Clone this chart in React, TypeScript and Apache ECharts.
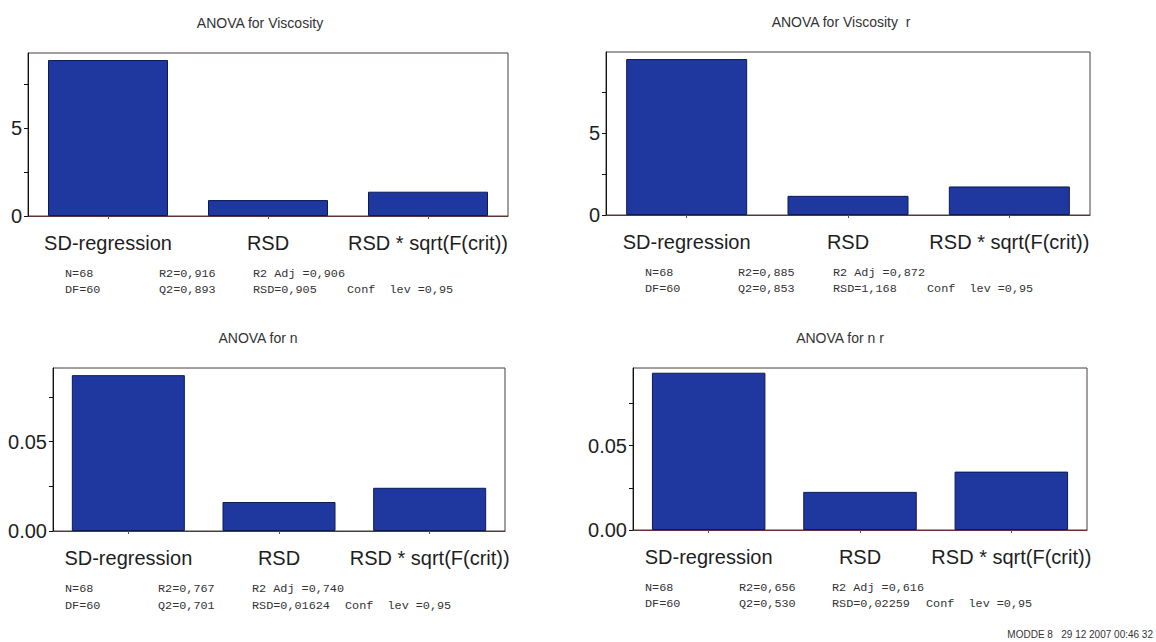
import React, { useEffect, useRef } from "react";
import * as echarts from "echarts";

const categories = ["SD-regression", "RSD", "RSD * sqrt(F(crit))"];

const titles = ["ANOVA for Viscosity", "ANOVA for Viscosity  r", "ANOVA for n", "ANOVA for n r"];

const viscosity = [8.86, 0.905, 1.38];
const viscosityR = [9.51, 1.168, 1.74];
const nValues = [0.0873, 0.01624, 0.0242];
const nRValues = [0.0932, 0.02259, 0.0346];

const yMax = [9.26, 9.94, 0.0913, 0.096];
const yTicks = [
  [0, 2.5, 5, 7.5],
  [0, 2.5, 5, 7.5],
  [0, 0.025, 0.05, 0.075],
  [0, 0.025, 0.05, 0.075],
];
const yLabels = [[0, 5], [0, 5], [0, 0.05], [0, 0.05]];
const yDecimals = [0, 0, 2, 2];

const statsRow1 = [
  ["N=68", "R2=0,916", "R2 Adj =0,906", ""],
  ["N=68", "R2=0,885", "R2 Adj =0,872", ""],
  ["N=68", "R2=0,767", "R2 Adj =0,740", ""],
  ["N=68", "R2=0,656", "R2 Adj =0,616", ""],
];
const statsRow2 = [
  ["DF=60", "Q2=0,893", "RSD=0,905", "Conf  lev =0,95"],
  ["DF=60", "Q2=0,853", "RSD=1,168", "Conf  lev =0,95"],
  ["DF=60", "Q2=0,701", "RSD=0,01624", "Conf  lev =0,95"],
  ["DF=60", "Q2=0,530", "RSD=0,02259", "Conf  lev =0,95"],
];
const footer = "MODDE 8   29 12 2007 00:46 32";

const seriesData = [viscosity, viscosityR, nValues, nRValues];

// layout
const grids = [
  { left: 28, top: 53, width: 480, height: 163 },
  { left: 606, top: 52, width: 484, height: 163 },
  { left: 53, top: 368, width: 452, height: 163 },
  { left: 633, top: 368, width: 454, height: 162 },
];
const titlePos = [
  { x: 260, y: 23 },
  { x: 841, y: 22 },
  { x: 258, y: 338 },
  { x: 840, y: 338 },
];
const statCols = [
  [65, 159, 253, 347],
  [645, 738, 833, 927],
  [65, 158, 252, 345],
  [645, 739, 832, 926],
];
const statRowsY = [
  [274, 290],
  [273, 289],
  [589, 606],
  [588, 604],
];

export default function App() {
  const ref = useRef<HTMLDivElement>(null);
  useEffect(() => {
    if (!ref.current) return;
    const chart = echarts.init(ref.current, undefined, { renderer: "svg" });

    const graphics: any[] = [];
    titles.forEach((t, i) => {
      graphics.push({
        type: "text",
        x: titlePos[i].x,
        y: titlePos[i].y,
        style: {
          text: t,
          fill: "#333",
          font: "14px 'Liberation Sans', Arial, sans-serif",
          textAlign: "center",
          textVerticalAlign: "middle",
        },
      });
    });
    [statsRow1, statsRow2].forEach((rows, r) => {
      rows.forEach((cols, i) => {
        cols.forEach((txt, c) => {
          if (!txt) return;
          graphics.push({
            type: "text",
            x: statCols[i][c],
            y: statRowsY[i][r],
            style: {
              text: txt,
              fill: "#333",
              font: "11.8px 'Liberation Mono', 'Courier New', monospace",
              textAlign: "left",
              textVerticalAlign: "middle",
            },
          });
        });
      });
    });
    graphics.push({
      type: "text",
      x: 1153,
      y: 634,
      style: {
        text: footer,
        fill: "#333",
        font: "10px 'Liberation Sans', Arial, sans-serif",
        textAlign: "right",
        textVerticalAlign: "middle",
      },
    });

    const option: any = {
      animation: false,
      backgroundColor: "#ffffff",
      grid: grids.map((g) => ({
        ...g,
        show: true,
        borderColor: "#4a3c3c",
        borderWidth: 1,
        backgroundColor: "transparent",
        containLabel: false,
      })),
      xAxis: grids.map((_, i) => ({
        type: "category",
        gridIndex: i,
        data: categories,
        axisLine: { show: true, lineStyle: { color: "#5e3434", width: 1 } },
        axisTick: { show: true, alignWithLabel: true, length: 3, lineStyle: { color: "#555" } },
        axisLabel: {
          interval: 0,
          fontSize: 20,
          color: "#1e1e1e",
          fontFamily: "'Liberation Sans', Arial, sans-serif",
          margin: 17,
        },
        splitLine: { show: false },
      })),
      yAxis: grids.map((_, i) => ({
        type: "value",
        gridIndex: i,
        min: 0,
        max: yMax[i],
        axisLine: { show: true, lineStyle: { color: "#111", width: 1 } },
        axisTick: {
          show: true,
          length: 4,
          customValues: yTicks[i],
          lineStyle: { color: "#111" },
        },
        axisLabel: {
          customValues: yLabels[i],
          fontSize: 20,
          color: "#1e1e1e",
          fontFamily: "'Liberation Sans', Arial, sans-serif",
          margin: 6,
          formatter: (v: number) => v.toFixed(yDecimals[i]),
        },
        splitLine: { show: false },
      })),
      series: seriesData.map((d, i) => ({
        type: "bar",
        xAxisIndex: i,
        yAxisIndex: i,
        data: d,
        barCategoryGap: "25%",
        itemStyle: { color: "#1f389f", borderColor: "#0c1a55", borderWidth: 1 },
      })),
      graphic: graphics,
    };
    chart.setOption(option);
    return () => chart.dispose();
  }, []);
  return (
    <div
      ref={ref}
      style={{ position: "fixed", left: 0, top: 0, width: 1156, height: 642, background: "#fff" }}
    />
  );
}
